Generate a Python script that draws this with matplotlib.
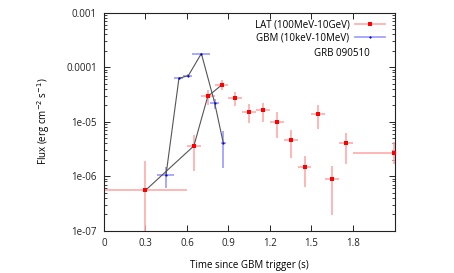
import numpy as np
import matplotlib
matplotlib.use("Agg")
import matplotlib.pyplot as plt
from matplotlib.lines import Line2D
from matplotlib.ticker import LogLocator, FixedLocator, NullFormatter

plt.rcParams['font.family'] = ['Open Sans', 'DejaVu Sans']

# LAT (100 MeV - 10 GeV)
lat_t = [0.3, 0.65, 0.75, 0.85, 0.95, 1.05, 1.15, 1.25, 1.35, 1.45, 1.55, 1.65, 1.75, 2.1]
lat_tlo = [0.0, 0.6, 0.7, 0.8, 0.9, 1.0, 1.1, 1.2, 1.3, 1.4, 1.5, 1.6, 1.7, 1.8]
lat_thi = [0.6, 0.7, 0.8, 0.9, 1.0, 1.1, 1.2, 1.3, 1.4, 1.5, 1.6, 1.7, 1.8, 2.4]
lat_flux = [5.5e-7, 3.6e-6, 2.9e-5, 4.7e-5, 2.75e-5, 1.5e-5, 1.62e-5, 1.0e-5,
            4.7e-6, 1.48e-6, 1.38e-5, 8.8e-7, 4.0e-6, 2.67e-6]
lat_flo = [5e-8, 1.26e-6, 2.0e-5, 3.8e-5, 1.95e-5, 9.3e-6, 9.8e-6, 5.1e-6,
           2.2e-6, 6.3e-7, 7.2e-6, 1.94e-7, 1.65e-6, 1.7e-6]
lat_fhi = [1.9e-6, 5.7e-6, 3.8e-5, 5.8e-5, 3.55e-5, 2.09e-5, 2.24e-5, 1.48e-5,
           7.1e-6, 2.35e-6, 2.03e-5, 1.55e-6, 6.3e-6, 4.3e-6]

# GBM (10 keV - 10 MeV)
gbm_t = [0.448, 0.542, 0.61, 0.704, 0.80, 0.863]
gbm_tlo = [0.381, 0.508, 0.573, 0.638, 0.77, 0.845]
gbm_thi = [0.508, 0.573, 0.64, 0.77, 0.83, 0.88]
gbm_flux = [1.03e-6, 6.25e-5, 7.0e-5, 1.78e-4, 2.23e-5, 4.0e-6]
gbm_flo = [6.2e-7, 5.9e-5, 6.6e-5, 1.7e-4, 1.7e-5, 1.4e-6]
gbm_fhi = [1.45e-6, 6.6e-5, 7.4e-5, 1.86e-4, 2.6e-5, 6.8e-6]

n_lat_line = 4  # LAT points joined by the line

def asym(v, lo, hi):
    v, lo, hi = map(np.asarray, (v, lo, hi))
    return np.vstack([v - lo, hi - v])

fig = plt.figure(figsize=(4.54, 2.73), dpi=100)
ax = fig.add_axes([0.229, 0.155, 0.6417, 0.7985])

lat_col = "#ff0000"
lat_err = "#ffaaaa"
gbm_col = "#0000cc"
gbm_err = "#9999ff"

ax.plot(gbm_t, gbm_flux, color="#555555", lw=0.8, zorder=3)
ax.plot(lat_t[:n_lat_line], lat_flux[:n_lat_line], color="#555555", lw=0.8, zorder=3)

ax.errorbar(lat_t, lat_flux,
            xerr=asym(lat_t, lat_tlo, lat_thi),
            yerr=asym(lat_flux, lat_flo, lat_fhi),
            fmt="none", ecolor=lat_err, elinewidth=1.2, capsize=0, zorder=2)
ax.plot(lat_t, lat_flux, "s", color=lat_col, ms=2.6, mew=0, zorder=4)

ax.errorbar(gbm_t, gbm_flux,
            xerr=asym(gbm_t, gbm_tlo, gbm_thi),
            yerr=asym(gbm_flux, gbm_flo, gbm_fhi),
            fmt="none", ecolor=gbm_err, elinewidth=1.2, capsize=0, zorder=2)
ax.plot(gbm_t, gbm_flux, "o", color=gbm_col, ms=1.6, mew=0, zorder=4)

ax.set_yscale("log")
ax.set_xlim(0, 2.106)
ax.set_ylim(1e-7, 1e-3)

xt = [0, 0.3, 0.6, 0.9, 1.2, 1.5, 1.8]
ax.xaxis.set_major_locator(FixedLocator(xt))
ax.set_xticklabels(["0", "0.3", "0.6", "0.9", "1.2", "1.5", "1.8"])
ax.yaxis.set_major_locator(LogLocator(base=10, numticks=10))
ax.yaxis.set_minor_locator(LogLocator(base=10, subs=np.arange(2, 10), numticks=10))
ax.yaxis.set_minor_formatter(NullFormatter())
ax.set_yticks([1e-7, 1e-6, 1e-5, 1e-4, 1e-3])
ax.set_yticklabels(["1e-07", "1e-06", "1e-05", "0.0001", "0.001"])

ax.tick_params(which="both", direction="in", top=True, right=True,
               labelsize=7, colors="#222222", pad=5)
ax.tick_params(which="major", length=4, width=0.7)
ax.tick_params(which="minor", length=2, width=0.6)
for s in ax.spines.values():
    s.set_linewidth(0.8)
    s.set_color("#222222")

ax.set_xlabel("Time since GBM trigger (s)", fontsize=7, labelpad=8)
ax.set_ylabel("Flux (erg cm$^{-2}$ s$^{-1}$)", fontsize=7, labelpad=10)

handles = [
    Line2D([], [], color=lat_err, lw=1.2, marker="s", ms=2.6,
           markerfacecolor=lat_col, markeredgewidth=0),
    Line2D([], [], color=gbm_err, lw=1.2, marker="o", ms=1.6,
           markerfacecolor=gbm_col, markeredgewidth=0),
]
leg = ax.legend(handles, ["LAT (100MeV-10GeV)", "GBM (10keV-10MeV)"],
                loc="upper right", frameon=False, fontsize=7,
                markerfirst=False, handlelength=3.0, handletextpad=0.6,
                labelspacing=0.2, borderaxespad=0.4,
                bbox_to_anchor=(0.99, 1.005))
ax.text(0.815, 0.815, "GRB 090510", transform=ax.transAxes,
        ha="center", va="center", fontsize=7)

fig.savefig("out.png", dpi=100)
